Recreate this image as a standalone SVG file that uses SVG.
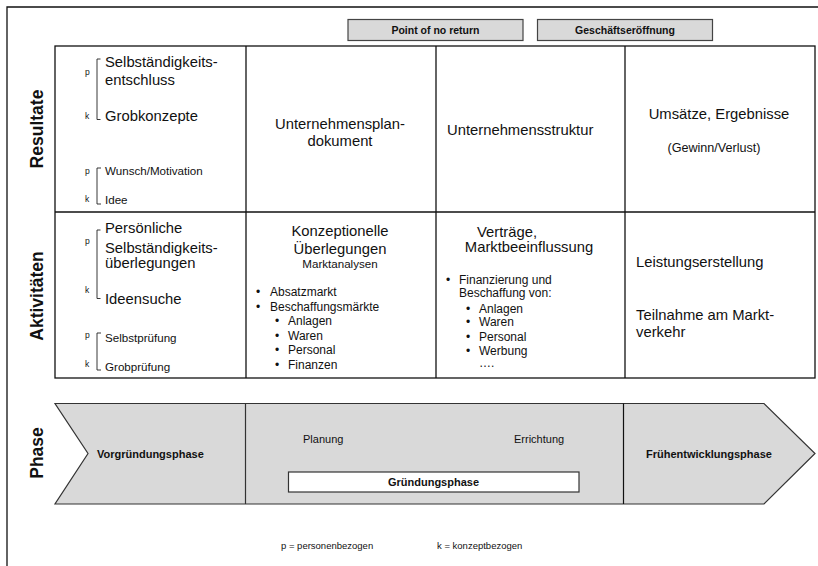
<svg xmlns="http://www.w3.org/2000/svg" width="818" height="566" viewBox="0 0 818 566">
  <style>
    text { font-family: "Liberation Sans", Arial, sans-serif; fill: #111; }
    .big { font-size: 14.8px; }
    .mid { font-size: 12px; }
    .sm { font-size: 11.6px; }
    .tag { font-size: 8.5px; }
    .lbl { font-size: 17.5px; font-weight: bold; }
    .bold { font-weight: bold; }
    .c { text-anchor: middle; }
    .grid { fill: none; stroke: #111; stroke-width: 1.3; }
    .brk { fill: none; stroke: #222; stroke-width: 0.9; }
    .hdr { fill: #d9d9d9; stroke: #444; stroke-width: 1.2; }
  </style>

  <rect width="818" height="566" fill="#fff"/>

  <!-- outer frame -->
  <path d="M7 566 V7 H818" fill="none" stroke="#111" stroke-width="1.3"/>

  <!-- milestone boxes -->
  <g id="point-of-no-return">
    <rect class="hdr" x="348" y="19.5" width="175" height="21"/>
    <text class="bold c" x="435.5" y="34" font-size="10.5">Point of no return</text>
  </g>
  <g id="geschaeftseroeffnung">
    <rect class="hdr" x="537.5" y="19.5" width="175" height="21"/>
    <text class="bold c" x="625" y="34" font-size="10.5">Geschäftseröffnung</text>
  </g>

  <!-- row labels -->
  <text class="lbl c" transform="translate(43 129) rotate(-90)">Resultate</text>
  <text class="lbl c" transform="translate(43 296) rotate(-90)">Aktivitäten</text>
  <text class="lbl c" transform="translate(43 453) rotate(-90)">Phase</text>

  <!-- table grid -->
  <g id="grid">
    <rect class="grid" x="55" y="46" width="760" height="332"/>
    <line class="grid" x1="55" y1="212" x2="815" y2="212"/>
    <line class="grid" x1="246" y1="46" x2="246" y2="378"/>
    <line class="grid" x1="436" y1="46" x2="436" y2="378"/>
    <line class="grid" x1="625" y1="46" x2="625" y2="378"/>
  </g>

  <!-- Resultate, column 1 -->
  <g id="res-vorgruendung">
    <path class="brk" d="M100.5 59 H97 V119.5 H100.5"/>
    <text class="tag" x="85" y="75">p</text>
    <text class="tag" x="85" y="119">k</text>
    <text class="big" x="105" y="66.5">Selbständigkeits-</text>
    <text class="big" x="105" y="84.5">entschluss</text>
    <text class="big" x="105" y="121">Grobkonzepte</text>
    <path class="brk" d="M101 168 H97 V204 H101"/>
    <text class="tag" x="85" y="174">p</text>
    <text class="tag" x="85" y="202">k</text>
    <text class="sm" x="105" y="175">Wunsch/Motivation</text>
    <text class="sm" x="105" y="204">Idee</text>
  </g>

  <!-- Resultate, columns 2-4 -->
  <g id="res-planung">
    <text class="big c" x="340" y="129">Unternehmensplan-</text>
    <text class="big c" x="340" y="145.5">dokument</text>
  </g>
  <g id="res-errichtung">
    <text class="big" x="447" y="134.5">Unternehmensstruktur</text>
  </g>
  <g id="res-fruehentwicklung">
    <text class="big c" x="719" y="119">Umsätze, Ergebnisse</text>
    <text class="c" x="714" y="151.5" font-size="12.6">(Gewinn/Verlust)</text>
  </g>

  <!-- Aktivitäten, column 1 -->
  <g id="akt-vorgruendung">
    <path class="brk" d="M100.5 230 H97 V298.5 H100.5"/>
    <text class="tag" x="85" y="244">p</text>
    <text class="tag" x="85" y="293">k</text>
    <text class="big" x="105" y="233">Persönliche</text>
    <text class="big" x="105" y="253">Selbständigkeits-</text>
    <text class="big" x="105" y="267.5">überlegungen</text>
    <text class="big" x="105" y="304">Ideensuche</text>
    <path class="brk" d="M101 333 H97 V370 H101"/>
    <text class="tag" x="85" y="338">p</text>
    <text class="tag" x="85" y="367">k</text>
    <text class="sm" x="105" y="342">Selbstprüfung</text>
    <text class="sm" x="105" y="370.5">Grobprüfung</text>
  </g>

  <!-- Aktivitäten, column 2 -->
  <g id="akt-planung">
    <text class="big c" x="340" y="235.5">Konzeptionelle</text>
    <text class="big c" x="340" y="254">Überlegungen</text>
    <text class="sm c" x="340" y="268">Marktanalysen</text>
    <g class="mid">
      <text x="256" y="296">•</text><text x="270" y="296">Absatzmarkt</text>
      <text x="256" y="310.5">•</text><text x="270" y="310.5">Beschaffungsmärkte</text>
      <text x="275" y="325">•</text><text x="288" y="325">Anlagen</text>
      <text x="275" y="339.5">•</text><text x="288" y="339.5">Waren</text>
      <text x="275" y="354">•</text><text x="288" y="354">Personal</text>
      <text x="275" y="368.5">•</text><text x="288" y="368.5">Finanzen</text>
    </g>
  </g>

  <!-- Aktivitäten, column 3 -->
  <g id="akt-errichtung">
    <text class="big" x="477" y="237">Verträge,</text>
    <text class="big c" x="529" y="252">Marktbeeinflussung</text>
    <g class="mid">
      <text x="446" y="283.5">•</text><text x="459" y="283.5">Finanzierung und</text>
      <text x="459" y="297">Beschaffung von:</text>
      <text x="466" y="312.5">•</text><text x="479" y="312.5">Anlagen</text>
      <text x="466" y="326">•</text><text x="479" y="326">Waren</text>
      <text x="466" y="340.5">•</text><text x="479" y="340.5">Personal</text>
      <text x="466" y="354.5">•</text><text x="479" y="354.5">Werbung</text>
      <text x="479" y="367">….</text>
    </g>
  </g>

  <!-- Aktivitäten, column 4 -->
  <g id="akt-fruehentwicklung">
    <text class="big" x="636" y="266.5">Leistungserstellung</text>
    <text class="big" x="636" y="320">Teilnahme am Markt-</text>
    <text class="big" x="636" y="336.5">verkehr</text>
  </g>

  <!-- phase arrow -->
  <g id="phasen">
    <polygon points="55,403.5 764,403.5 815,453.5 764,504 55,504 88,453.5" fill="#d9d9d9" stroke="#333" stroke-width="1.2"/>
    <line x1="245.5" y1="403.5" x2="245.5" y2="504" stroke="#333" stroke-width="1.2"/>
    <line x1="623.5" y1="403.5" x2="623.5" y2="504" stroke="#111" stroke-width="1.2"/>
  </g>
  <g id="vorgruendungsphase">
    <text class="bold" x="97" y="457.5" font-size="11">Vorgründungsphase</text>
  </g>
  <g id="gruendungsphase">
    <text x="303" y="443" font-size="11">Planung</text>
    <text x="514" y="443" font-size="11">Errichtung</text>
    <rect x="288.5" y="472" width="290.5" height="20" fill="#fff" stroke="#333" stroke-width="1.2"/>
    <text class="bold c" x="433.5" y="486" font-size="11">Gründungsphase</text>
  </g>
  <g id="fruehentwicklungsphase">
    <text class="bold" x="646" y="457.5" font-size="11">Frühentwicklungsphase</text>
  </g>

  <!-- legend -->
  <text x="281" y="549" font-size="9.5">p = personenbezogen</text>
  <text x="437" y="549" font-size="9.5">k = konzeptbezogen</text>
</svg>
